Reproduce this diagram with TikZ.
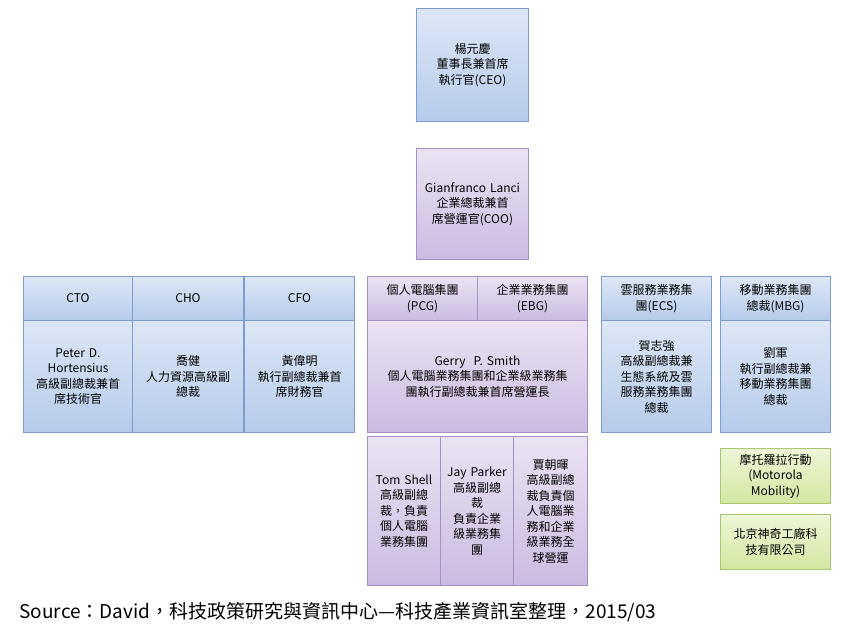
\documentclass[tikz,border=0pt]{standalone}
\usepackage{fontspec}
\setmainfont{Noto Sans CJK TC}
\usepackage{xcolor}
\definecolor{bluetop}{HTML}{DDE7F6}
\definecolor{bluebot}{HTML}{B5CBEB}
\definecolor{blueline}{HTML}{7E9CD0}
\definecolor{purtop}{HTML}{EAE3F3}
\definecolor{purbot}{HTML}{CBBBE1}
\definecolor{purline}{HTML}{A58FC4}
\definecolor{grntop}{HTML}{EEF6D8}
\definecolor{grnbot}{HTML}{D2E7A0}
\definecolor{grnline}{HTML}{A8C870}
\tikzset{
  box/.style={draw,line width=1pt,anchor=north west,inner sep=1pt,align=center,
    font=\fontsize{12}{15.5}\selectfont},
  bluebox/.style={box,draw=blueline,top color=bluetop,bottom color=bluebot},
  purbox/.style={box,draw=purline,top color=purtop,bottom color=purbot},
  grnbox/.style={box,draw=grnline,top color=grntop,bottom color=grnbot},
  wh/.style 2 args={minimum width=#1pt,minimum height=#2pt,text width=#1pt-4pt},
}
\begin{document}
\begin{tikzpicture}[x=1pt,y=-1pt]
\useasboundingbox[fill=white](0,0) rectangle (851,636);
% top
\node[bluebox,wh={112}{113}] (ceo) at (416,8) {楊元慶\\董事長兼首席\\執行官(CEO)};
\node[purbox,wh={112}{111}] (coo) at (416,148) {Gianfranco Lanci\\企業總裁兼首\\席營運官(COO)};
%
\node[bluebox,wh={109}{44}] (ctoh) at (23,276) {CTO};
\node[bluebox,wh={109}{112}] (cto) at (23,320) {Peter D.\\Hortensius\\高級副總裁兼首\\席技術官};
\node[bluebox,wh={111}{44}] (choh) at (132,276) {CHO};
\node[bluebox,wh={111}{112}] (cho) at (132,320) {喬健\\人力資源高級副\\總裁};
\node[bluebox,wh={110}{44}] (cfoh) at (244,276) {CFO};
\node[bluebox,wh={110}{112}] (cfo) at (244,320) {黃偉明\\執行副總裁兼首\\席財務官};
%
\node[purbox,wh={110}{44}] (pcg) at (367,276) {個人電腦集團\\(PCG)};
\node[purbox,wh={110}{44}] (ebg) at (477,276) {企業業務集團\\(EBG)};
\node[purbox,wh={220}{112}] (gerry) at (367,320) {Gerry\ \ P. Smith\\個人電腦業務集團和企業級業務集\\團執行副總裁兼首席營運長};
\node[purbox,wh={73}{149}] (tom) at (367,436) {Tom Shell\\高級副總\\裁，負責\\個人電腦\\業務集團};
\node[purbox,wh={73}{149}] (jay) at (440,436) {Jay Parker\\高級副總\\裁\\負責企業\\級業務集\\團};
\node[purbox,wh={74}{149}] (jia) at (513,436) {賈朝暉\\高級副總\\裁負責個\\人電腦業\\務和企業\\級業務全\\球營運};
%
\node[bluebox,wh={110}{44}] (ecsh) at (601,276) {雲服務業務集\\團(ECS)};
\node[bluebox,wh={110}{112}] (ecs) at (601,320) {賀志強\\高級副總裁兼\\生態系統及雲\\服務業務集團\\總裁};
\node[bluebox,wh={110}{44}] (mbgh) at (720,276) {移動業務集團\\總裁(MBG)};
\node[bluebox,wh={110}{112}] (mbg) at (720,320) {劉軍\\執行副總裁兼\\移動業務集團\\總裁};
\node[grnbox,wh={110}{55}] (moto) at (720,448) {摩托羅拉行動\\(Motorola\\Mobility)};
\node[grnbox,wh={110}{55}] (bj) at (720,514) {北京神奇工廠科\\技有限公司};
%
\node[anchor=west,font=\fontsize{19}{22}\selectfont] (src) at (16,612) {Source：David，科技政策研究與資訊中心—科技產業資訊室整理，2015/03};
\end{tikzpicture}
\end{document}
